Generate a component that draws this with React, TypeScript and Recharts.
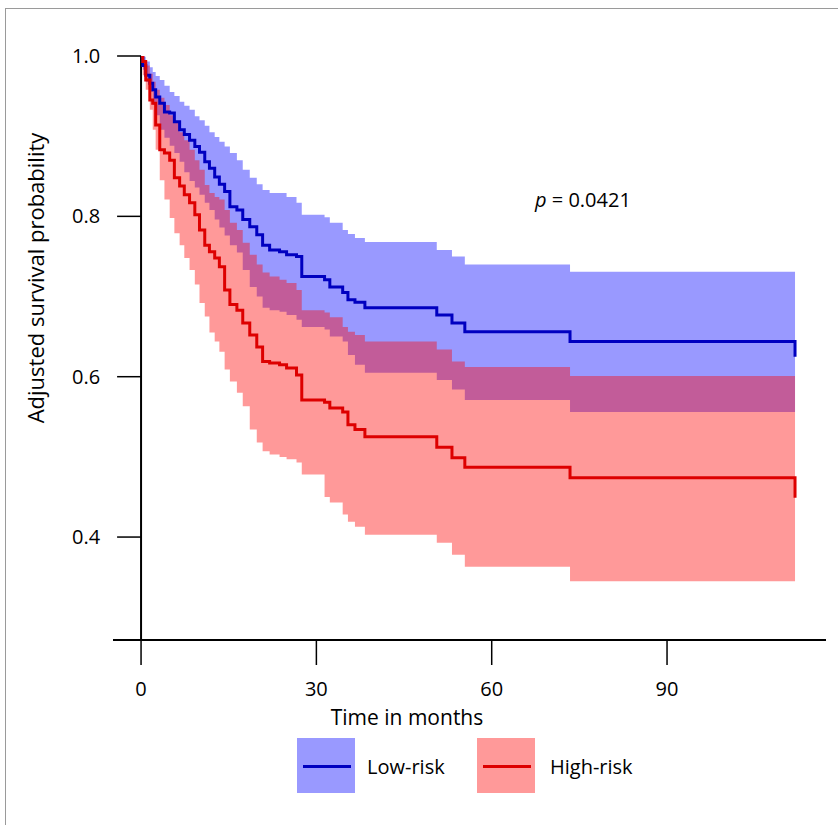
import React from "react";
import {
  ComposedChart,
  Area,
  Line,
  XAxis,
  YAxis,
  ReferenceLine,
} from "recharts";

// step times (months) and the curves
const months = [
  0, 0.3, 0.8, 1.5, 2.0, 2.5, 3.2, 4.0, 4.9, 5.7, 6.6, 7.4, 8.3, 9.2, 10.0, 10.9,
  11.7, 12.6, 13.4, 14.3, 15.2, 16.4, 17.4, 18.6, 19.8, 20.8, 22.0, 23.7, 24.9,
  26.6, 27.5, 31.4, 32.3, 34.5, 35.4, 36.6, 38.3, 50.6, 53.2, 55.4, 73.4, 111.9,
];

const lowRiskEst = [
  1.0, 0.988, 0.976, 0.966, 0.958, 0.949, 0.941, 0.93, 0.929, 0.918, 0.908, 0.902,
  0.895, 0.887, 0.88, 0.868, 0.86, 0.849, 0.84, 0.831, 0.812, 0.808, 0.796, 0.787,
  0.777, 0.764, 0.758, 0.756, 0.752, 0.75, 0.725, 0.721, 0.712, 0.705, 0.696,
  0.693, 0.686, 0.677, 0.667, 0.656, 0.644, 0.625,
];
const lowRiskUpper = [
  1.0, 0.999, 0.993, 0.986, 0.98, 0.975, 0.97, 0.963, 0.955, 0.95, 0.943, 0.938,
  0.933, 0.925, 0.92, 0.913, 0.905, 0.899, 0.893, 0.887, 0.879, 0.87, 0.858, 0.848,
  0.84, 0.833, 0.829, 0.829, 0.824, 0.817, 0.802, 0.799, 0.792, 0.783, 0.778,
  0.773, 0.768, 0.758, 0.75, 0.74, 0.731, 0.731,
];
const lowRiskLower = [
  1.0, 0.983, 0.968, 0.955, 0.939, 0.926, 0.908, 0.898, 0.888, 0.879, 0.868, 0.855,
  0.844, 0.836, 0.827, 0.817, 0.808, 0.796, 0.786, 0.776, 0.764, 0.755, 0.733,
  0.712, 0.7, 0.686, 0.683, 0.681, 0.677, 0.671, 0.662, 0.659, 0.65, 0.644, 0.627,
  0.615, 0.605, 0.596, 0.584, 0.571, 0.556, 0.556,
];

const highRiskEst = [
  1.0, 0.993, 0.97, 0.945, 0.941, 0.914, 0.883, 0.879, 0.87, 0.848, 0.838, 0.827,
  0.817, 0.802, 0.783, 0.764, 0.756, 0.748, 0.737, 0.708, 0.69, 0.683, 0.667, 0.652,
  0.637, 0.619, 0.617, 0.615, 0.611, 0.602, 0.571, 0.568, 0.561, 0.556, 0.54, 0.534,
  0.525, 0.512, 0.499, 0.487, 0.474, 0.449,
];
const highRiskUpper = [
  1.0, 0.995, 0.988, 0.978, 0.968, 0.958, 0.948, 0.939, 0.926, 0.918, 0.905, 0.895,
  0.883, 0.87, 0.858, 0.839, 0.829, 0.824, 0.821, 0.808, 0.792, 0.783, 0.767, 0.752,
  0.74, 0.73, 0.725, 0.721, 0.717, 0.708, 0.683, 0.68, 0.674, 0.662, 0.656, 0.652,
  0.644, 0.634, 0.619, 0.612, 0.601, 0.601,
];
const highRiskLower = [
  1.0, 0.976, 0.958, 0.933, 0.908, 0.883, 0.845, 0.821, 0.798, 0.779, 0.764, 0.748,
  0.733, 0.715, 0.692, 0.675, 0.655, 0.644, 0.631, 0.609, 0.594, 0.58, 0.563, 0.534,
  0.518, 0.507, 0.503, 0.5, 0.497, 0.493, 0.478, 0.45, 0.443, 0.428, 0.419, 0.413,
  0.403, 0.393, 0.378, 0.363, 0.345, 0.345,
];

const xTicks = [0, 30, 60, 90];
const yTicks = [0.4, 0.6, 0.8, 1.0];

const FONT = "'Open Sans', sans-serif";

const data = months.map((t, i) => ({
  t,
  lowEst: lowRiskEst[i],
  lowBand: [lowRiskLower[i], lowRiskUpper[i]],
  highEst: highRiskEst[i],
  highBand: [highRiskLower[i], highRiskUpper[i]],
}));

const textStyle: React.CSSProperties = {
  position: "absolute",
  fontFamily: FONT,
  fontSize: 20,
  color: "#000",
  whiteSpace: "nowrap",
  lineHeight: "20px",
};

export default function App() {
  return (
    <div style={{ position: "absolute", left: 0, top: 0, width: 838, height: 825, background: "#fff" }}>
      <div
        style={{
          position: "absolute",
          left: 5,
          top: 8,
          width: 833,
          height: 817,
          borderLeft: "1px solid #9a9a9a",
          borderTop: "1px solid #9a9a9a",
        }}
      />
      <ComposedChart
        width={838}
        height={825}
        data={data}
        margin={{ top: 56, right: 12, bottom: 125, left: 113 }}
        style={{ position: "absolute", left: 0, top: 0 }}
      >
        <XAxis
          dataKey="t"
          type="number"
          domain={[-4.8, 117.2]}
          allowDataOverflow
          ticks={xTicks}
          height={60}
          tickSize={25}
          tickMargin={17}
          axisLine={{ stroke: "#000", strokeWidth: 2 }}
          tickLine={{ stroke: "#000", strokeWidth: 1.5 }}
          tick={{ fill: "#000", fontSize: 20, fontFamily: FONT }}
        />
        <YAxis type="number" domain={[0.2716, 1.0]} allowDataOverflow hide width={0} />
        <Area
          dataKey="lowBand"
          type="stepAfter"
          stroke="none"
          fill="#0000ff"
          fillOpacity={0.4}
          isAnimationActive={false}
        />
        <Area
          dataKey="highBand"
          type="stepAfter"
          stroke="none"
          fill="#ff0000"
          fillOpacity={0.4}
          isAnimationActive={false}
        />
        <ReferenceLine x={0} stroke="#000" strokeWidth={2} />
        {yTicks.map((v) => (
          <ReferenceLine
            key={v}
            segment={[
              { x: -4.1, y: v },
              { x: 0, y: v },
            ]}
            stroke="#000"
            strokeWidth={1.5}
            label={{
              value: v.toFixed(1),
              position: "left",
              offset: 17,
              fill: "#000",
              fontSize: 20,
              fontFamily: FONT,
            }}
          />
        ))}
        <Line
          dataKey="lowEst"
          type="stepAfter"
          stroke="#0000c0"
          strokeWidth={3}
          dot={false}
          isAnimationActive={false}
        />
        <Line
          dataKey="highEst"
          type="stepAfter"
          stroke="#dd0000"
          strokeWidth={3}
          dot={false}
          isAnimationActive={false}
        />
      </ComposedChart>

      <div
        style={{
          ...textStyle,
          fontSize: 22,
          lineHeight: "22px",
          left: 35,
          top: 278,
          transform: "translate(-50%, -50%) rotate(-90deg)",
        }}
      >
        Adjusted survival probability
      </div>
      <div style={{ ...textStyle, fontSize: 21, left: 407, top: 707, transform: "translateX(-50%)" }}>
        Time in months
      </div>
      <div style={{ ...textStyle, left: 535, top: 190 }}>
        <i>p</i> = 0.0421
      </div>

      {/* legend */}
      <div style={{ position: "absolute", left: 297, top: 738, width: 58, height: 55, background: "rgba(0,0,255,0.4)" }}>
        <div style={{ position: "absolute", left: 6, top: 27, width: 48, height: 3, background: "#0000c0" }} />
      </div>
      <div style={{ ...textStyle, left: 367, top: 757 }}>Low-risk</div>
      <div style={{ position: "absolute", left: 477, top: 738, width: 58, height: 55, background: "rgba(255,0,0,0.4)" }}>
        <div style={{ position: "absolute", left: 6, top: 27, width: 48, height: 3, background: "#dd0000" }} />
      </div>
      <div style={{ ...textStyle, left: 550, top: 757 }}>High-risk</div>
    </div>
  );
}
